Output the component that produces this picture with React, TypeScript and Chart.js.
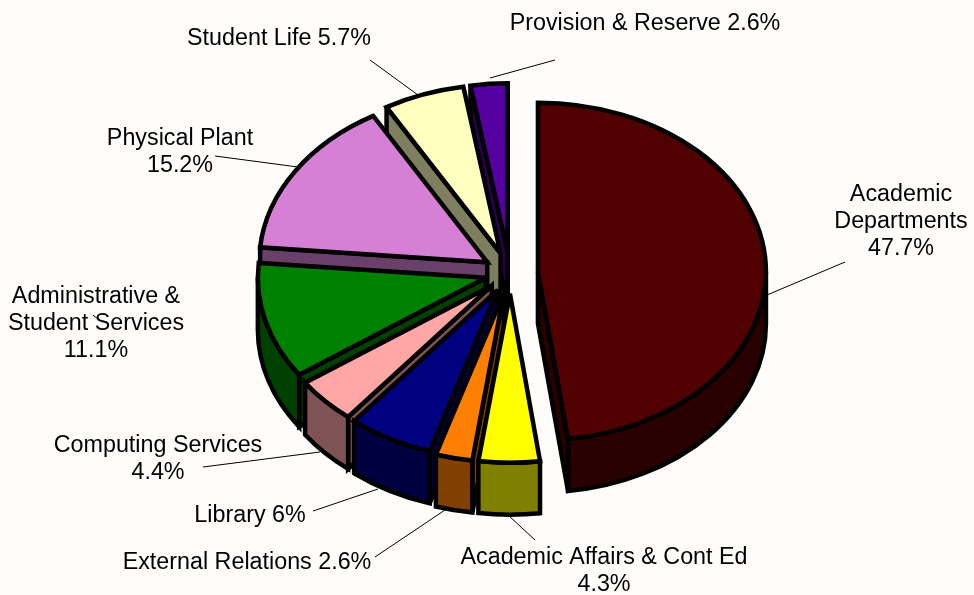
import React, { useEffect, useRef } from "react";
import { Chart, registerables } from "chart.js";

Chart.register(...registerables);

const categories = [
  "Academic Departments",
  "Academic Affairs & Cont Ed",
  "External Relations",
  "Library",
  "Computing Services",
  "Administrative & Student Services",
  "Physical Plant",
  "Student Life",
  "Provision & Reserve",
];
const shares = [47.7, 4.3, 2.6, 6, 4.4, 11.1, 15.2, 5.7, 2.6];
const faceColors = [
  "#500000",
  "#FFFF00",
  "#FF8000",
  "#000080",
  "#FFA6A6",
  "#008000",
  "#D580D5",
  "#FFFFC0",
  "#5500A0",
];
const sliceExplode = [28, 28, 28, 26, 25, 25, 27, 28, 28];

// Category text broken into display lines; the percentage is appended from shares.
const labelLines = [
  ["Academic", "Departments"],
  ["Academic Affairs & Cont Ed"],
  ["External Relations"],
  ["Library"],
  ["Computing Services"],
  ["Administrative &", "Student Services"],
  ["Physical Plant"],
  ["Student Life"],
  ["Provision & Reserve"],
];
const labelInline = [false, false, true, true, false, false, false, true, true];
const labelCentreX = [901, 604, 247, 250, 158, 96, 180, 279, 645];
const labelFirstY = [195, 558, 563, 516, 446, 297, 139, 39, 24];
const leaderLines = [
  [767, 295, 845, 262],
  [508, 515, 535, 540],
  [375, 557, 445, 510],
  [313, 511, 378, 489],
  [203, 467, 320, 452],
  [93, 315, 98, 319],
  [215, 156, 298, 167],
  [370, 60, 418, 95],
  [490, 78, 555, 60],
];

const TILT = 0.741;
const WALL_DEPTH = 52;
const OUTLINE = 4.5;
const LINE_HEIGHT = 27;
const FONT = '23.3px "Liberation Sans", Arial, sans-serif';

function halfTone(hex: string) {
  const n = parseInt(hex.slice(1), 16);
  const r = (n >> 16) >> 1;
  const g = ((n >> 8) & 255) >> 1;
  const b = (n & 255) >> 1;
  return `rgb(${r},${g},${b})`;
}

// Draws each slice as a tilted, extruded wedge, back to front, from the arc elements' geometry.
const extrudedPie = {
  id: "extrudedPie",
  beforeDatasetDraw(chart: any) {
    const ctx: CanvasRenderingContext2D = chart.ctx;
    const arcs: any[] = chart.getDatasetMeta(0).data;
    const depth = WALL_DEPTH / TILT;

    const order = arcs
      .map((arc, i) => ({ arc, i, mid: (arc.startAngle + arc.endAngle) / 2 }))
      .sort((p, q) => Math.sin(p.mid) - Math.sin(q.mid));

    ctx.save();
    ctx.lineWidth = OUTLINE;
    ctx.strokeStyle = "#000";
    ctx.lineJoin = "miter";
    ctx.miterLimit = 3;

    for (const { arc, i, mid } of order) {
      const { x, y, startAngle, endAngle, outerRadius: r } = arc;
      const off = arc.options.offset;
      const ax = x + Math.cos(mid) * off;
      const ay = y + Math.sin(mid) * off;

      const shape = (build: () => void, fill: string) => {
        ctx.save();
        ctx.translate(0, y);
        ctx.scale(1, TILT);
        ctx.translate(0, -y);
        ctx.beginPath();
        build();
        ctx.closePath();
        ctx.restore();
        ctx.fillStyle = fill;
        ctx.fill();
        ctx.stroke();
      };

      const wall = halfTone(faceColors[i]);
      const radialWall = (t: number) => {
        const px = ax + Math.cos(t) * r;
        const py = ay + Math.sin(t) * r;
        shape(() => {
          ctx.moveTo(ax, ay);
          ctx.lineTo(px, py);
          ctx.lineTo(px, py + depth);
          ctx.lineTo(ax, ay + depth);
        }, wall);
      };
      // Only the cut faces turned towards the viewer are drawn.
      if (Math.cos(startAngle) < 0) radialWall(startAngle);
      if (Math.cos(endAngle) > 0) radialWall(endAngle);

      const from = Math.max(startAngle, 0);
      const to = Math.min(endAngle, Math.PI);
      if (from < to) {
        shape(() => {
          ctx.arc(ax, ay, r, from, to);
          ctx.arc(ax, ay + depth, r, to, from, true);
        }, wall);
      }
      shape(() => {
        ctx.moveTo(ax, ay);
        ctx.arc(ax, ay, r, startAngle, endAngle);
      }, faceColors[i]);
    }
    ctx.restore();
    return false;
  },
  afterDraw(chart: any) {
    const ctx: CanvasRenderingContext2D = chart.ctx;
    ctx.save();
    ctx.strokeStyle = "#000";
    ctx.lineWidth = 1;
    for (const [x1, y1, x2, y2] of leaderLines) {
      ctx.beginPath();
      ctx.moveTo(x1, y1);
      ctx.lineTo(x2, y2);
      ctx.stroke();
    }
    ctx.fillStyle = "#000";
    ctx.font = FONT;
    ctx.textAlign = "center";
    ctx.textBaseline = "middle";
    shares.forEach((share, i) => {
      const pct = `${share}%`;
      const lines = labelInline[i]
        ? [`${labelLines[i][0]} ${pct}`]
        : [...labelLines[i], pct];
      lines.forEach((line, k) => {
        ctx.fillText(line, labelCentreX[i], labelFirstY[i] + k * LINE_HEIGHT);
      });
    });
    ctx.restore();
  },
};

export default function App() {
  const ref = useRef<HTMLCanvasElement>(null);
  useEffect(() => {
    document.body.style.margin = "0";
    document.body.style.background = "#FEFDFB";
    const chart = new Chart(ref.current!, {
      type: "pie",
      data: {
        labels: categories,
        datasets: [
          {
            data: shares,
            backgroundColor: faceColors,
            offset: sliceExplode,
            borderWidth: 0,
            radius: 228,
          } as any,
        ],
      },
      options: {
        responsive: false,
        animation: false,
        layout: { padding: { left: 46, top: 4, bottom: 53 } },
        plugins: { legend: { display: false }, tooltip: { enabled: false } },
      },
      plugins: [extrudedPie],
    });
    return () => chart.destroy();
  }, []);
  return <canvas ref={ref} width={974} height={595} style={{ display: "block" }} />;
}
